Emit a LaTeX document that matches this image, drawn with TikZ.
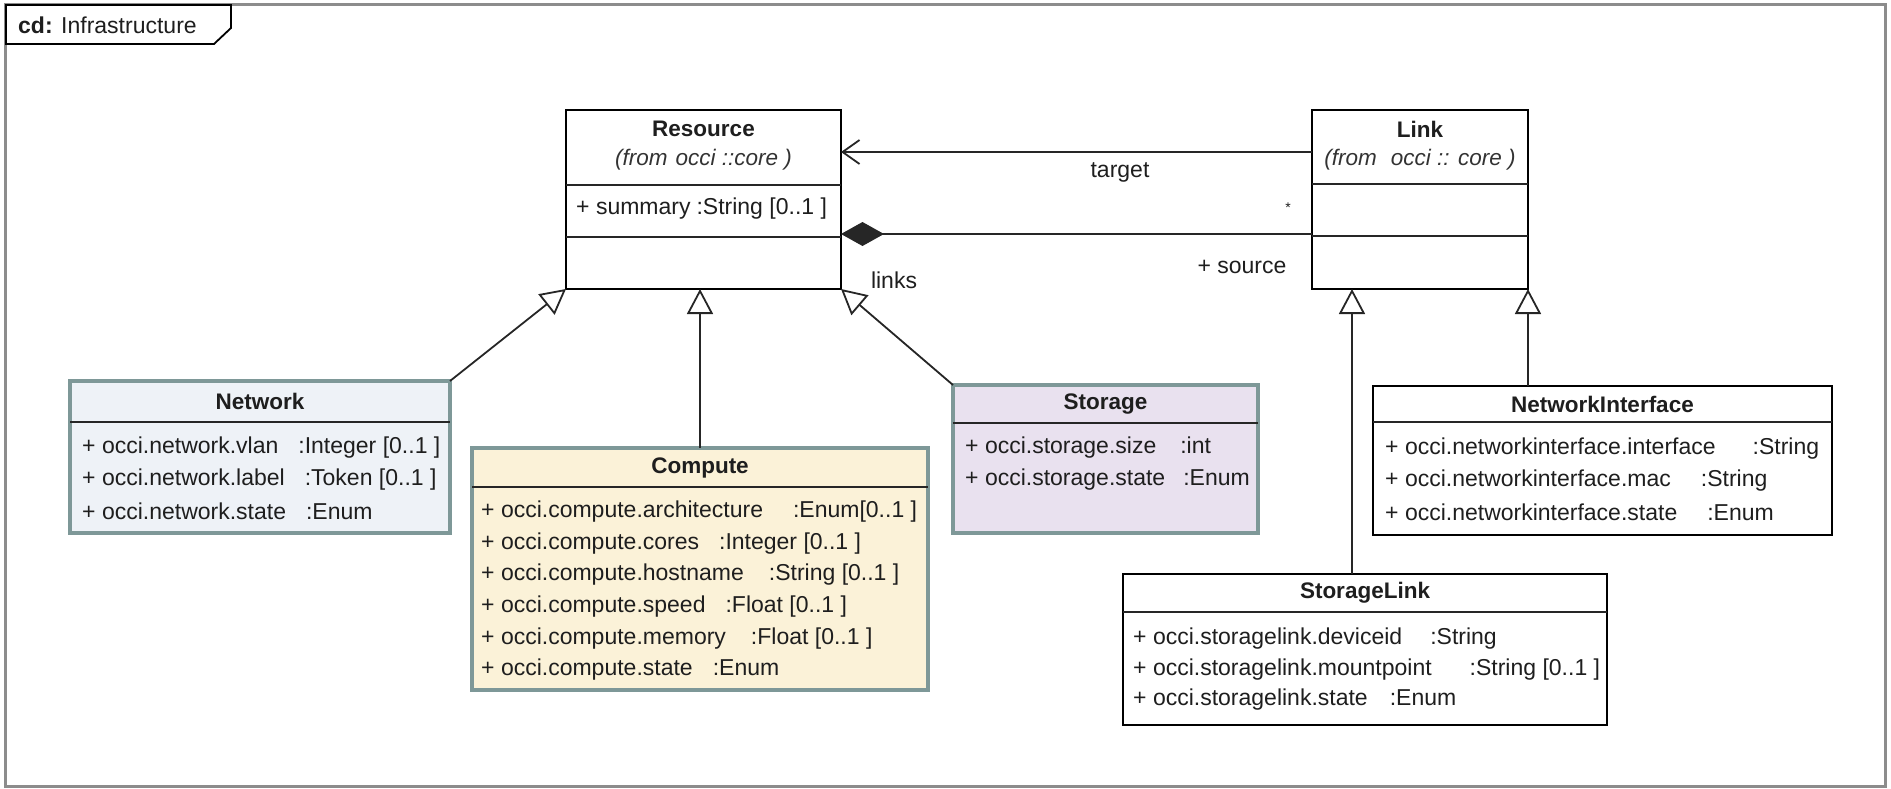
\documentclass[tikz,border=0pt]{standalone}
\usepackage{fontspec}
\setmainfont{Liberation Sans}
\usetikzlibrary{arrows.meta,calc}

\definecolor{netfill}{HTML}{EEF2F7}
\definecolor{compfill}{HTML}{FBF2D8}
\definecolor{storfill}{HTML}{E9E1EF}
\definecolor{tealedge}{HTML}{7E9898}
\definecolor{framegray}{HTML}{8C8C8C}
\definecolor{ink}{HTML}{1E1E1E}

\newcommand{\attrgap}[1]{\hspace{#1pt}}

\begin{document}
\begin{tikzpicture}[x=1pt,y=-1pt,
  font=\fontsize{23}{27}\selectfont, text=ink,
  classbox/.style={draw=black, line width=1.8pt, anchor=north west,
    inner sep=0pt, outer sep=0pt},
  tintbox/.style={draw=tealedge, line width=3.5pt, anchor=north west,
    inner sep=0pt, outer sep=0pt},
  divider/.style={line width=1.8pt, draw=black!85},
  attr/.style={anchor=west, inner sep=0pt},
  cname/.style={font=\fontsize{22.5}{27}\selectfont\bfseries, inner sep=0pt},
  pkg/.style={font=\fontsize{22.5}{27}\selectfont\itshape, inner sep=0pt, text=black!80},
  lbl/.style={inner sep=0pt},
  gen/.style={line width=1.8pt, draw=black!85,
    -{Triangle[length=25pt, width=26pt, fill=white]}},
  assoc/.style={line width=1.8pt, draw=black!85,
    -{Straight Barb[length=17pt, width=24pt]}},
  comp/.style={line width=1.8pt, draw=black!85,
    {Diamond[length=43pt, width=24pt]}-},
]
\useasboundingbox (0,0) rectangle (1891,789);

% diagram frame and its name tab
\draw[framegray, line width=3pt] (5.5,5) rectangle (1885.5,786);
\draw[black, line width=1.8pt, fill=white]
  (6,5) -- (231,5) -- (231,28) -- (214,44) -- (6,44) -- cycle;
\node[lbl, anchor=west] (title) at (18,25) {\textbf{cd:} Infrastructure};

% Resource
\node[classbox, minimum width=275pt, minimum height=179pt] (resource) at (566,110) {};
\draw[divider] (566,185) -- (841,185);
\draw[divider] (566,237) -- (841,237);
\node[cname] (resname) at (703.5,129) {Resource};
\node[pkg] (respkg) at (703.5,160) {(from\attrgap{8}occi ::core )};
\node[attr] (ressum) at (576,209) {+ summary\attrgap{6}:String [0..1 ]};

% Link
\node[classbox, minimum width=216pt, minimum height=179pt] (link) at (1312,110) {};
\draw[divider] (1312,184) -- (1528,184);
\draw[divider] (1312,236) -- (1528,236);
\node[cname] (linkname) at (1420,129) {Link};
\node[pkg] (linkpkg) at (1420,160) {(from\attrgap{14}occi :: core )};

% Network
\node[tintbox, fill=netfill, minimum width=380pt, minimum height=152pt] (network) at (70,381) {};
\draw[divider] (70,422) -- (450,422);
\node[cname] (netname) at (260,401.5) {Network};
\node[attr] (net1) at (82,448) {+ occi.network.vlan\attrgap{20}:Integer [0..1 ]};
\node[attr] (net2) at (82,480) {+ occi.network.label\attrgap{20}:Token [0..1 ]};
\node[attr] (net3) at (82,511) {+ occi.network.state\attrgap{20}:Enum};

% Compute
\node[tintbox, fill=compfill, minimum width=456pt, minimum height=242pt] (compute) at (472,448) {};
\draw[divider] (472,487) -- (928,487);
\node[cname] (compname) at (700,467.5) {Compute};
\node[attr] (comp1) at (481,512) {+ occi.compute.architecture\attrgap{30}:Enum[0..1 ]};
\node[attr] (comp2) at (481,543.5) {+ occi.compute.cores\attrgap{20}:Integer [0..1 ]};
\node[attr] (comp3) at (481,575) {+ occi.compute.hostname\attrgap{25}:String [0..1 ]};
\node[attr] (comp4) at (481,607) {+ occi.compute.speed\attrgap{20}:Float [0..1 ]};
\node[attr] (comp5) at (481,639) {+ occi.compute.memory\attrgap{25}:Float [0..1 ]};
\node[attr] (comp6) at (481,670) {+ occi.compute.state\attrgap{20}:Enum};

% Storage
\node[tintbox, fill=storfill, minimum width=305pt, minimum height=148pt] (storage) at (953,385) {};
\draw[divider] (953,423) -- (1258,423);
\node[cname] (storname) at (1105.5,404) {Storage};
\node[attr] (stor1) at (965,448) {+ occi.storage.size\attrgap{24}:int};
\node[attr] (stor2) at (965,480) {+ occi.storage.state\attrgap{18}:Enum};

% NetworkInterface
\node[classbox, minimum width=459pt, minimum height=149pt] (netif) at (1373,386) {};
\draw[divider] (1373,422) -- (1832,422);
\node[cname] (netifname) at (1602.5,404) {NetworkInterface};
\node[attr] (nif1) at (1385,449) {+ occi.networkinterface.interface\attrgap{37}:String};
\node[attr] (nif2) at (1385,480.5) {+ occi.networkinterface.mac\attrgap{30}:String};
\node[attr] (nif3) at (1385,512) {+ occi.networkinterface.state\attrgap{30}:Enum};

% StorageLink
\node[classbox, minimum width=484pt, minimum height=151pt] (storlink) at (1123,574) {};
\draw[divider] (1123,612) -- (1607,612);
\node[cname] (storlinkname) at (1365,593) {StorageLink};
\node[attr] (sl1) at (1133,639) {+ occi.storagelink.deviceid\attrgap{28}:String};
\node[attr] (sl2) at (1133,670) {+ occi.storagelink.mountpoint\attrgap{38}:String [0..1 ]};
\node[attr] (sl3) at (1133,700) {+ occi.storagelink.state\attrgap{22}:Enum};

% associations between Link and Resource
\draw[assoc] ([yshift=47.5pt]link.west) -- ([yshift=47.5pt]resource.east);
\draw[comp] ([yshift=-34.5pt]resource.east) -- ([yshift=-34.5pt]link.west);
\node[lbl] (target) at (1120,172) {target};
\node[lbl, font=\fontsize{14}{16}\selectfont] (mult) at (1288,208) {*};
\node[lbl] (source) at (1242,267) {+ source};
\node[lbl] (links) at (894,280) {links};

% generalisations
\draw[gen] (network.north east) -- (resource.south west);
\draw[gen] (compute.north) -- (resource.south -| compute.north);
\draw[gen] (storage.north west) -- (resource.south east);
\coordinate (slx) at ([xshift=40pt]link.south west);
\draw[gen] (storlink.north -| slx) -- (slx);
\draw[gen] (netif.north -| link.south east) -- (link.south east);
\end{tikzpicture}
\end{document}
